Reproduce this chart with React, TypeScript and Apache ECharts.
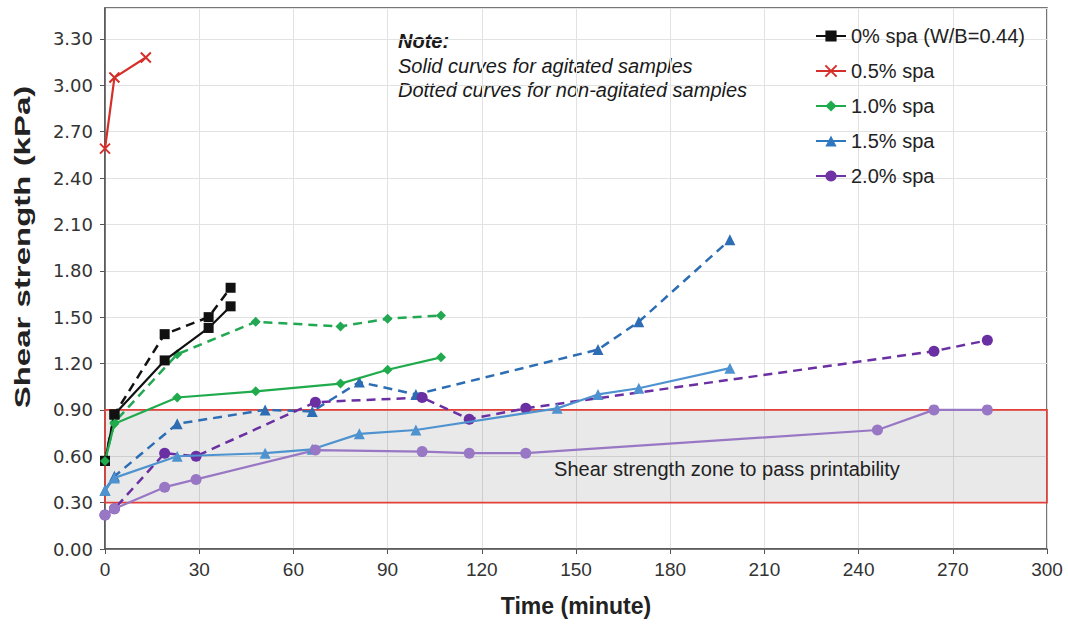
import React, { useEffect, useRef } from "react";
import * as echarts from "echarts";

// ---- data (time in minutes, shear strength in kPa) ----
const legendNames = ["0% spa (W/B=0.44)", "0.5% spa", "1.0% spa", "1.5% spa", "2.0% spa"];

const spa00Agitated = [[0, 0.57], [3, 0.87], [19, 1.22], [33, 1.43], [40, 1.57]];
const spa00NonAgitated = [[0, 0.57], [3, 0.87], [19, 1.39], [33, 1.5], [40, 1.69]];

const spa05Agitated = [[0, 2.59], [3, 3.05], [13, 3.18]];

const spa10Agitated = [[0, 0.57], [3, 0.81], [23, 0.98], [48, 1.02], [75, 1.07], [90, 1.16], [107, 1.24]];
const spa10NonAgitated = [[0, 0.57], [3, 0.82], [23, 1.26], [48, 1.47], [75, 1.44], [90, 1.49], [107, 1.51]];

const spa15Agitated = [[0, 0.38], [3, 0.46], [23, 0.6], [51, 0.62], [66, 0.645], [81, 0.745], [99, 0.77], [144, 0.91], [157, 1.0], [170, 1.04], [199, 1.17]];
const spa15NonAgitated = [[0, 0.38], [3, 0.47], [23, 0.81], [51, 0.9], [66, 0.89], [81, 1.08], [99, 1.0], [157, 1.29], [170, 1.47], [199, 2.0]];

const spa20Agitated = [[0, 0.22], [3, 0.26], [19, 0.4], [29, 0.45], [67, 0.64], [101, 0.63], [116, 0.62], [134, 0.62], [246, 0.77], [264, 0.9], [281, 0.9]];
const spa20NonAgitated = [[0, 0.22], [3, 0.26], [19, 0.62], [29, 0.6], [67, 0.95], [101, 0.98], [116, 0.84], [134, 0.91], [264, 1.28], [281, 1.35]];

const zoneRange = [0.3, 0.9];
const zoneLabel = "Shear strength zone to pass printability";
const noteLines = ["Note:", "Solid curves for agitated samples", "Dotted curves for non-agitated samples"];

const xMin = 0, xMax = 300, xStep = 30;
const yMin = 0, yMax = 3.5, yStep = 0.3;

const FONT = '"Liberation Sans", Arial, Helvetica, sans-serif';

const legendColors = ["#111111", "#d42f2a", "#1fab4c", "#2f78c0", "#6f33a5"];
const X_PATH = "path://M0,0L10,10M10,0L0,10";

function line(name: string, data: number[][], color: string, symbol: string, size: number, dashed: boolean, extra: any = {}) {
  return {
    type: "line",
    name,
    data,
    symbol,
    symbolSize: size,
    showSymbol: true,
    lineStyle: { color, width: dashed ? 2.5 : 2.2, type: dashed ? [9, 6] : "solid" },
    itemStyle: { color, borderColor: color, borderWidth: symbol === X_PATH ? 2 : 0 },
    z: dashed ? 3 : 4,
    ...extra,
  };
}

export default function App() {
  const ref = useRef<HTMLDivElement>(null);
  useEffect(() => {
    if (!ref.current) return;
    const chart = echarts.init(ref.current, undefined, { renderer: "svg" });
    const option: any = {
      animation: false,
      backgroundColor: "#ffffff",
      textStyle: { fontFamily: FONT },
      grid: { left: 105, right: 21, top: 8, bottom: 77, show: true, borderColor: "#4a4a4a", borderWidth: 1.5, backgroundColor: "transparent" },
      legend: {
        orient: "vertical",
        left: 815,
        top: 26,
        itemWidth: 30,
        itemHeight: 14,
        itemGap: 15,
        padding: 0,
        textStyle: { fontSize: 20, color: "#222", fontFamily: FONT },
        data: legendNames.map((n, i) => ({
          name: n,
          itemStyle: { color: legendColors[i] },
          lineStyle: { color: legendColors[i], type: "solid", width: 2 },
        })),
      },
      xAxis: {
        type: "value",
        min: xMin,
        max: xMax,
        interval: xStep,
        name: "Time (minute)",
        nameLocation: "middle",
        nameGap: 45,
        nameTextStyle: { fontSize: 23, fontWeight: "bold", color: "#222", fontFamily: FONT },
        axisLine: { show: true, lineStyle: { color: "#555", width: 1.5 } },
        axisTick: { show: true, length: 5, lineStyle: { color: "#555" } },
        axisLabel: { fontSize: 19, color: "#333", margin: 11, fontFamily: FONT },
        splitLine: { show: true, lineStyle: { color: "#e2e2e2", width: 1 } },
      },
      yAxis: {
        type: "value",
        min: yMin,
        max: yMax,
        interval: yStep,
        axisLine: { show: true, lineStyle: { color: "#555", width: 1.5 } },
        axisTick: { show: true, length: 5, lineStyle: { color: "#555" } },
        axisLabel: {
          fontSize: 18,
          color: "#333",
          margin: 12,
          fontFamily: '"DejaVu Sans", sans-serif',
          showMaxLabel: false,
          formatter: (v: number) => v.toFixed(2),
        },
        splitLine: { show: true, lineStyle: { color: "#e2e2e2", width: 1 } },
      },
      graphic: [
        { type: "text", left: 398, top: 31, style: { text: noteLines[0], font: `italic bold 20px ${FONT}`, fill: "#1a1a1a" } },
        { type: "text", left: 398, top: 56, style: { text: noteLines[1], font: `italic 20px ${FONT}`, fill: "#1a1a1a" } },
        { type: "text", left: 398, top: 80, style: { text: noteLines[2], font: `italic 20px ${FONT}`, fill: "#1a1a1a" } },
        {
          type: "text",
          x: 23,
          y: 247,
          rotation: Math.PI / 2,
          scaleX: 1.5,
          style: {
            text: "Shear strength (kPa)",
            font: `bold 22px ${FONT}`,
            fill: "#222",
            align: "center",
            verticalAlign: "middle",
            textAlign: "center",
            textVerticalAlign: "middle",
          },
        },
      ],
      series: [
        line(legendNames[0], spa00Agitated, "#111111", "rect", 10, false, {
          markArea: {
            silent: true,
            itemStyle: { color: "rgba(0,0,0,0.085)", borderColor: "#e4403a", borderWidth: 1.6 },
            label: {
              show: true,
              position: ["66%", "64%"],
              align: "center",
              verticalAlign: "middle",
              fontSize: 20,
              color: "#222",
              fontFamily: FONT,
            },
            data: [[{ name: zoneLabel, xAxis: xMin, yAxis: zoneRange[0] }, { xAxis: xMax, yAxis: zoneRange[1] }]],
          },
        }),
        line(legendNames[0] + " (non-agitated)", spa00NonAgitated, "#111111", "rect", 10, true),
        line(legendNames[1], spa05Agitated, "#d42f2a", X_PATH, 10, false),
        line(legendNames[2], spa10Agitated, "#1fab4c", "diamond", 10, false),
        line(legendNames[2] + " (non-agitated)", spa10NonAgitated, "#22a852", "diamond", 10, true),
        line(legendNames[3], spa15Agitated, "#4e93cf", "triangle", 11, false),
        line(legendNames[3] + " (non-agitated)", spa15NonAgitated, "#2c6db3", "triangle", 11, true),
        line(legendNames[4], spa20Agitated, "#9877c4", "circle", 11, false),
        line(legendNames[4] + " (non-agitated)", spa20NonAgitated, "#6a2fa2", "circle", 11, true),
      ],
    };
    chart.setOption(option);
    return () => chart.dispose();
  }, []);
  return <div ref={ref} style={{ width: 1068, height: 626, position: "absolute", left: 0, top: 0 }} />;
}
